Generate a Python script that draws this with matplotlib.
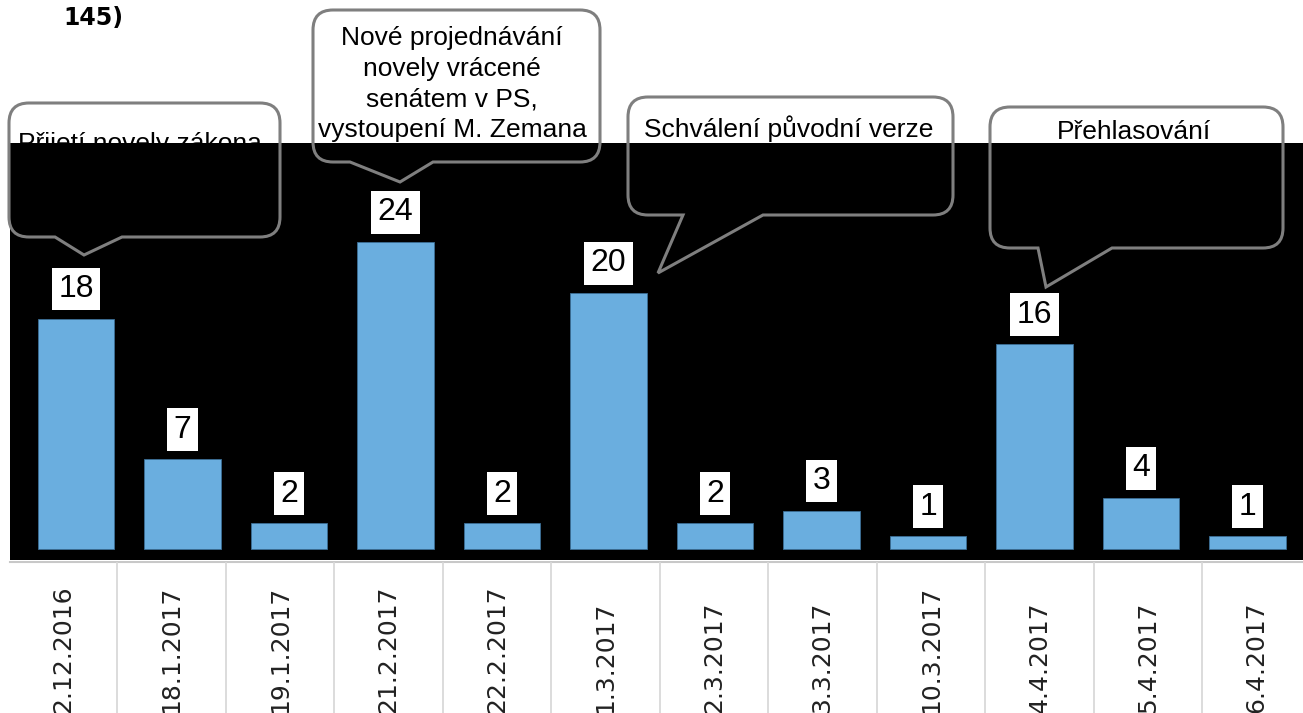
import matplotlib.pyplot as plt
from matplotlib.path import Path
from matplotlib.patches import PathPatch

dates = ["2.12.2016", "18.1.2017", "19.1.2017", "21.2.2017", "22.2.2017", "1.3.2017",
         "2.3.2017", "3.3.2017", "10.3.2017", "4.4.2017", "5.4.2017", "6.4.2017"]
counts = [18, 7, 2, 24, 2, 20, 2, 3, 1, 16, 4, 1]

# callouts: text lines, box (x0, y0, x1, y1) in pixels, tail (left x, tip, right x)
callouts = [
    (["Přijetí novely zákona"], (9, 103, 280, 237), (55, (84, 255), 122), 140, [151]),
    (["Nové projednávání", "novely vrácené", "senátem v PS,", "vystoupení M. Zemana"],
     (313, 10, 600, 162), (350, (400, 182), 433), 452, [45, 76, 107, 137]),
    (["Schválení původní verze"], (628, 97, 953, 215), (683, (658, 273), 763), 789, [137]),
    (["Přehlasování"], (990, 107, 1283, 248), (1038, (1046, 287), 1112), 1134, [139]),
]

W, H = 1303, 713
fig = plt.figure(figsize=(W / 100, H / 100), dpi=100)
fig.patch.set_facecolor("white")


def callout_path(box, tail, r=20):
    x0, y0, x1, y1 = box
    ta, tip, tb = tail
    verts = [(x0 + r, y0), (x1 - r, y0), (x1, y0), (x1, y0 + r), (x1, y1 - r),
             (x1, y1), (x1 - r, y1), (tb, y1), tip, (ta, y1), (x0 + r, y1),
             (x0, y1), (x0, y1 - r), (x0, y0 + r), (x0, y0), (x0 + r, y0), (x0 + r, y0)]
    codes = [Path.MOVETO, Path.LINETO, Path.CURVE3, Path.CURVE3, Path.LINETO,
             Path.CURVE3, Path.CURVE3, Path.LINETO, Path.LINETO, Path.LINETO, Path.LINETO,
             Path.CURVE3, Path.CURVE3, Path.LINETO, Path.CURVE3, Path.CURVE3, Path.CLOSEPOLY]
    return Path(verts, codes)


def overlay(z):
    a = fig.add_axes([0, 0, 1, 1])
    a.set_xlim(0, W)
    a.set_ylim(H, 0)
    a.axis("off")
    a.set_zorder(z)
    a.patch.set_visible(False)
    return a


under = overlay(0)
over = overlay(3)

# callout fills and text sit under the black plot area, borders on top
for lines, box, tail, cx, baselines in callouts:
    under.add_patch(PathPatch(callout_path(box, tail), facecolor="white", edgecolor="none"))
    for line, by in zip(lines, baselines):
        under.text(cx, by, line, ha="center", va="baseline", fontsize=19,
                   family="Liberation Sans", color="black")
    over.add_patch(PathPatch(callout_path(box, tail), facecolor="none",
                             edgecolor="#7f7f7f", lw=2.2))

under.text(63, 25, "145)", ha="left", va="baseline", fontsize=17,
           fontweight="bold", family="DejaVu Sans", color="black")

# bar area
ax = fig.add_axes([10 / W, (H - 560) / H, (W - 10) / W, 417 / H])
ax.set_zorder(1)
ax.set_facecolor("black")
x = list(range(len(counts)))
ax.bar(x, counts, width=0.72, color="#6aaedf", edgecolor="#3b6e96", linewidth=0.6)
ax.set_xlim(-0.62, 11.52)
ax.set_ylim(-0.86, 31.72)
for sp in ax.spines.values():
    sp.set_visible(False)
ax.set_xticks([])
ax.set_yticks([])
for i, v in zip(x, counts):
    ax.annotate(str(v), (i, v), xytext=(0, 10.5), textcoords="offset points",
                ha="center", va="bottom", fontsize=23, family="Liberation Sans",
                color="black",
                bbox=dict(boxstyle="square,pad=0.2", fc="white", ec="none"))

# category label strip
lab = fig.add_axes([0, 0, 1, (H - 561) / H])
lab.set_zorder(2)
lab.set_xlim(-8.5 / 108.5, (W - 8.5) / 108.5)
lab.set_ylim(0, 1)
lab.axis("off")
lab.plot([1.5 / 108.5, 12], [0.995, 0.995], color="#c8c8c8", lw=1.5)
for j in range(1, len(dates)):
    lab.plot([j, j], [0, 0.99], color="#d9d9d9", lw=1.3)
for j, d in enumerate(dates):
    lab.text(j + 0.5, 0.0, d, rotation=90, ha="center", va="bottom",
             fontsize=18, family="DejaVu Sans", color="#222222")

fig.savefig("out.png", dpi=100)
